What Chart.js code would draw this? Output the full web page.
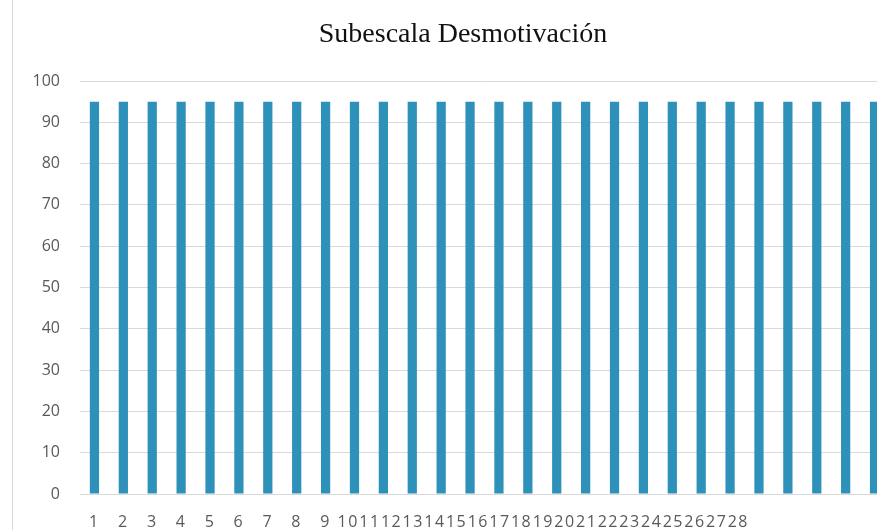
<!DOCTYPE html>
<html>
<head>
<meta charset="utf-8">
<script src="https://cdn.jsdelivr.net/npm/chart.js@4/dist/chart.umd.min.js"></script>
<style>
  html, body { margin: 0; padding: 0; background: #fff; overflow: hidden; }
  #wrap { position: absolute; left: 12px; top: 0; width: 900px; height: 530px; border-left: 1px solid #d9d9d9; }
</style>
</head>
<body>
<div id="wrap"><canvas id="chart" width="900" height="530"></canvas></div>
<script>
const categories = ['1', '2', '3', '4', '5', '6', '7', '8', '9', '10', '11', '12', '13', '14',
  '15', '16', '17', '18', '19', '20', '21', '22', '23', '24', '25', '26', '27', '28'];
const values = [95, 95, 95, 95, 95, 95, 95, 95, 95, 95, 95, 95, 95, 95,
  95, 95, 95, 95, 95, 95, 95, 95, 95, 95, 95, 95, 95, 95];
const yTicks = [0, 10, 20, 30, 40, 50, 60, 70, 80, 90, 100];
const titleText = 'Subescala Desmotivación';

const tickColor = '#595959';
const tickFamily = '"Open Sans", "Liberation Sans", sans-serif';

// title centred on the whole canvas, the plot itself sits off to the left
const centeredTitle = {
  id: 'centeredTitle',
  afterDraw (chart) {
    const { ctx, width } = chart;
    ctx.save();
    ctx.font = '28px "Liberation Serif", "Times New Roman", serif';
    ctx.fillStyle = '#111';
    ctx.textAlign = 'center';
    ctx.textBaseline = 'middle';
    ctx.fillText(titleText, width / 2, 35);
    ctx.restore();
  }
};

// the category labels in the source run together after 9, drawn here the same way
const squishedLabels = {
  id: 'squishedLabels',
  afterDraw (chart) {
    const { ctx, scales: { x } } = chart;
    const pitch = x.getPixelForValue(1) - x.getPixelForValue(0);
    ctx.save();
    ctx.font = '16px ' + tickFamily;
    ctx.letterSpacing = '1.5px';
    ctx.fillStyle = tickColor;
    ctx.textAlign = 'center';
    ctx.textBaseline = 'middle';
    const y = x.top + 28;
    categories.forEach((label, i) => {
      let px = x.getPixelForValue(i);
      if (i > 8) px = x.getPixelForValue(8) + 1 + (i - 8) * pitch * 0.75;
      ctx.fillText(label, px, y);
    });
    ctx.restore();
  }
};

new Chart(document.getElementById('chart'), {
  type: 'bar',
  data: {
    labels: categories,
    datasets: [{
      data: values,
      backgroundColor: '#2e91ba',
      borderWidth: 0,
      barPercentage: 0.32,
      categoryPercentage: 1
    }]
  },
  options: {
    responsive: false,
    animation: false,
    layout: { padding: { left: 0, right: 24, top: 81, bottom: 0 } },
    plugins: {
      legend: { display: false },
      tooltip: { enabled: false },
      title: { display: false }
    },
    scales: {
      x: {
        grid: { display: false },
        border: { color: '#d9d9d9' },
        ticks: { display: false },
        afterFit (scale) { scale.height = 36; }
      },
      y: {
        min: 0,
        max: 100,
        afterBuildTicks (scale) { scale.ticks = yTicks.map(v => ({ value: v })); },
        grid: { color: '#d9d9d9', drawTicks: false },
        border: { display: false },
        ticks: { color: tickColor, font: { family: tickFamily, size: 16 }, padding: 20 },
        afterFit (scale) { scale.width = 67; }
      }
    }
  },
  plugins: [centeredTitle, squishedLabels]
});
</script>
</body>
</html>
